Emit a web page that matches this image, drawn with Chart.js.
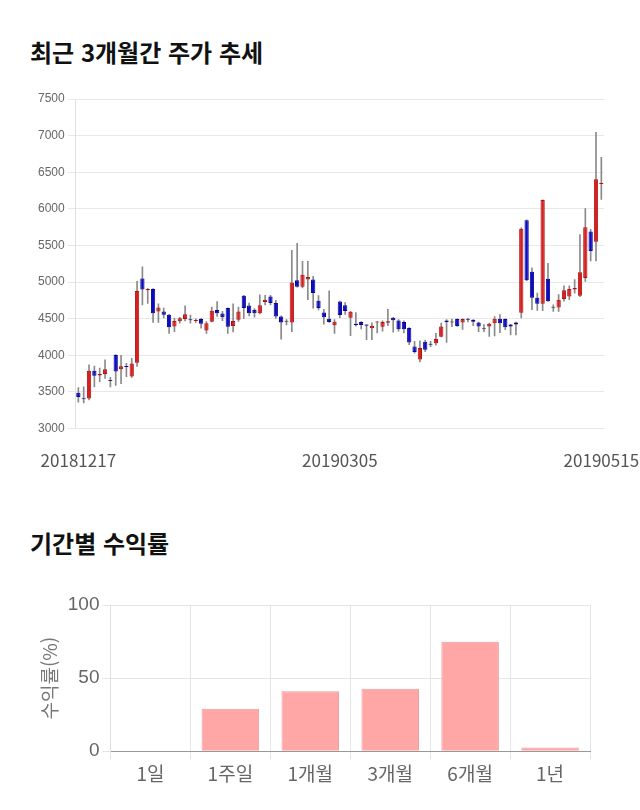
<!DOCTYPE html>
<html lang="ko">
<head>
<meta charset="utf-8">
<script src="https://cdn.jsdelivr.net/npm/chart.js@4"></script>
<style>
  html, body { margin: 0; padding: 0; background: #fff; }
  body { width: 640px; height: 810px; position: relative; overflow: hidden; font-family: 'Noto Sans CJK KR', sans-serif; }
  .title { position: absolute; left: 30px; font-size: 24px; font-weight: bold; color: #111; line-height: 1; }
  .box { position: absolute; left: 0; width: 640px; }
</style>
</head>
<body>
<div class="title" style="top:40px">최근 3개월간 주가 추세</div>
<div class="box" style="top:80px;height:405px"><canvas id="priceChart"></canvas></div>
<div class="title" style="top:531px">기간별 수익률</div>
<div class="box" style="top:580px;height:220px"><canvas id="returnChart"></canvas></div>

<script>
// 일자 (거래일)
const dates = [
  '20181217','20181218','20181219','20181220','20181221','20181224','20181226','20181227','20181228',
  '20190102','20190103','20190104','20190107','20190108','20190109','20190110','20190111','20190114','20190115',
  '20190116','20190117','20190118','20190121','20190122','20190123','20190124','20190125','20190128','20190129',
  '20190130','20190131',
  '20190201','20190207','20190208','20190211','20190212','20190213','20190214','20190215','20190218','20190219',
  '20190220','20190221','20190222','20190225','20190226','20190227','20190228',
  '20190304','20190305','20190306','20190307','20190308','20190311','20190312','20190313','20190314','20190315',
  '20190318','20190319','20190320','20190321','20190322','20190325','20190326','20190327','20190328','20190329',
  '20190401','20190402','20190403','20190404','20190405','20190408','20190409','20190410','20190411','20190412',
  '20190415','20190416','20190417','20190418','20190419','20190422','20190423','20190424','20190425','20190426',
  '20190429','20190430',
  '20190502','20190503','20190507','20190508','20190509','20190510','20190513','20190514','20190515'
];
const dateTicks = ['20181217', '20190305', '20190515'];

// 시가 / 고가 / 저가 / 종가
const opens = [
  3490, 3410, 3410, 3790, 3725, 3745, 3650, 4005, 3810, 3855,
  3710, 3900, 5050, 4890, 4905, 4600, 4600, 4555, 4395, 4465,
  4495, 4490, 4470, 4495, 4340, 4460, 4620, 4570, 4645, 4400,
  4485, 4815, 4680, 4620, 4575, 4730, 4805, 4715, 4530, 4460,
  4450, 5025, 4935, 5035, 5035, 4745, 4585, 4500, 4410, 4735,
  4685, 4515, 4430, 4455, 4420, 4370, 4450, 4390, 4445, 4515,
  4475, 4455, 4375, 4120, 3945, 4185, 4155, 4165, 4255, 4475,
  4450, 4495, 4450, 4500, 4485, 4450, 4355, 4395, 4440, 4500,
  4495, 4420, 4450, 4580, 5845, 5140, 4785, 4705, 5045, 4650,
  4655, 4770, 4805, 4900, 4815, 5055, 5690, 5550, 6340
];
const highs = [
  3560, 3570, 3870, 3855, 3825, 3940, 3700, 4010, 4000, 3890,
  3960, 5010, 5210, 4910, 4910, 4705, 4645, 4560, 4510, 4520,
  4675, 4550, 4500, 4505, 4460, 4660, 4735, 4600, 4650, 4705,
  4660, 4820, 4715, 4640, 4825, 4820, 4820, 4750, 4540, 4490,
  5435, 5530, 5285, 5285, 5080, 4815, 4630, 4880, 4490, 4740,
  4720, 4600, 4585, 4460, 4420, 4445, 4460, 4470, 4630, 4520,
  4490, 4470, 4380, 4190, 4200, 4210, 4190, 4300, 4440, 4490,
  4495, 4500, 4500, 4505, 4490, 4455, 4420, 4440, 4530, 4555,
  4500, 4425, 4455, 5740, 5850, 5195, 4850, 6125, 5255, 4690,
  4830, 4950, 4950, 5035, 5650, 6005, 5720, 7045, 6705
];
const lows = [
  3360, 3350, 3390, 3570, 3640, 3685, 3570, 3590, 3615, 3710,
  3700, 3850, 4690, 4710, 4450, 4450, 4510, 4300, 4325, 4440,
  4470, 4440, 4450, 4370, 4300, 4455, 4530, 4475, 4300, 4320,
  4465, 4505, 4540, 4520, 4565, 4690, 4690, 4505, 4220, 4415,
  4325, 4930, 4920, 4760, 4645, 4620, 4425, 4450, 4300, 4515,
  4560, 4270, 4400, 4360, 4215, 4215, 4305, 4330, 4405, 4315,
  4330, 4305, 4145, 4030, 3910, 4050, 4120, 4140, 4250, 4175,
  4390, 4395, 4355, 4455, 4405, 4325, 4325, 4260, 4265, 4310,
  4350, 4280, 4280, 4510, 5020, 4625, 4615, 4610, 4735, 4600,
  4600, 4740, 4760, 4850, 4800, 5010, 5290, 5290, 6130
];
const closes = [
  3430, 3400, 3790, 3720, 3745, 3810, 3650, 3780, 3850, 3840,
  3890, 4880, 4900, 4905, 4575, 4655, 4555, 4385, 4470, 4505,
  4560, 4480, 4480, 4430, 4440, 4610, 4575, 4520, 4390, 4470,
  4600, 4645, 4575, 4575, 4685, 4760, 4715, 4530, 4450, 4460,
  4995, 4935, 5100, 5070, 4850, 4645, 4520, 4455, 4460, 4550,
  4605, 4595, 4415, 4415, 4405, 4405, 4455, 4455, 4465, 4480,
  4355, 4355, 4175, 4045, 4100, 4075, 4145, 4225, 4395, 4455,
  4450, 4400, 4495, 4485, 4460, 4395, 4355, 4430, 4500, 4440,
  4385, 4395, 4420, 5730, 5025, 4785, 4705, 6120, 4740, 4650,
  4760, 4890, 4905, 4920, 5135, 5750, 5425, 6405, 6350
];
const priceTicks = [3000, 3500, 4000, 4500, 5000, 5500, 6000, 6500, 7000, 7500];

// 기간별 수익률 (%)
const periods = ['1일', '1주일', '1개월', '3개월', '6개월', '1년'];
const periodReturns = [0, 29, 41, 42.7, 74.8, 2.5];

const UP = '#d81e1e', UP_LINE = '#b01212';
const DOWN = '#0a0ac8', DOWN_LINE = '#08088f';
const FLAT = '#333';

// 캔들 색상: 상승 빨강, 하락 파랑
const bodyColors = closes.map((c, i) => c > opens[i] ? UP : (c < opens[i] ? DOWN : FLAT));
const bodyLines = closes.map((c, i) => c > opens[i] ? UP_LINE : (c < opens[i] ? DOWN_LINE : FLAT));

new Chart(document.getElementById('priceChart'), {
  type: 'bar',
  data: {
    labels: dates,
    datasets: [
      {
        // 몸통
        data: opens.map((o, i) => [o, closes[i]]),
        backgroundColor: bodyColors,
        borderColor: bodyLines,
        borderWidth: 1,
        borderSkipped: false,
        barPercentage: 0.8,
        categoryPercentage: 1,
        minBarLength: 1,
        grouped: false,
        order: 1
      },
      {
        // 꼬리
        data: lows.map((l, i) => [l, highs[i]]),
        backgroundColor: '#8a8a8a',
        barThickness: 1,
        grouped: false,
        order: 2
      }
    ]
  },
  options: {
    responsive: true,
    maintainAspectRatio: false,
    animation: false,
    layout: { padding: { left: 35, right: 36, top: 19, bottom: 0 } },
    plugins: { legend: { display: false }, tooltip: { enabled: false } },
    scales: {
      x: {
        grid: { display: false },
        border: { display: false },
        // 양 끝 날짜 라벨 때문에 차트 영역이 줄어들지 않도록
        afterFit: scale => { scale.paddingLeft = 0; scale.paddingRight = 0; },
        ticks: {
          autoSkip: false,
          maxRotation: 0,
          padding: 14,
          color: '#555',
          font: { family: "'Noto Sans CJK KR', sans-serif", size: 17 },
          callback: (v, i) => dateTicks.includes(dates[i]) ? dates[i] : ''
        }
      },
      y: {
        min: 3000,
        max: 7500,
        afterBuildTicks: axis => { axis.ticks = priceTicks.map(v => ({ value: v })); },
        grid: { color: '#e8e8e8' },
        border: { color: '#e0e0e0' },
        ticks: {
          color: '#666',
          font: { family: "'Liberation Sans', Arial, sans-serif", size: 12 },
          callback: v => String(v)
        }
      }
    }
  }
});

new Chart(document.getElementById('returnChart'), {
  type: 'bar',
  data: {
    labels: periods,
    datasets: [{
      data: periodReturns,
      backgroundColor: '#ffa6a6',
      borderColor: '#f09a9a',
      borderWidth: 1
    }]
  },
  options: {
    responsive: true,
    maintainAspectRatio: false,
    animation: false,
    layout: { padding: { left: 34, right: 50, top: 25, bottom: 12 } },
    plugins: { legend: { display: false }, tooltip: { enabled: false } },
    scales: {
      x: {
        grid: { color: '#e5e5e5' },
        border: { color: '#999' },
        ticks: {
          color: '#666',
          font: { family: "'Noto Sans CJK KR', sans-serif", size: 19 }
        }
      },
      y: {
        min: 0,
        max: 100,
        ticks: {
          stepSize: 50,
          color: '#666',
          font: { family: "'Liberation Sans', Arial, sans-serif", size: 19 }
        },
        grid: { color: '#e5e5e5' },
        border: { color: '#e0e0e0' },
        title: {
          display: true,
          text: '수익률(%)',
          color: '#777',
          font: { family: "'Noto Sans CJK KR', sans-serif", size: 19 }
        }
      }
    }
  }
});
</script>
</body>
</html>
